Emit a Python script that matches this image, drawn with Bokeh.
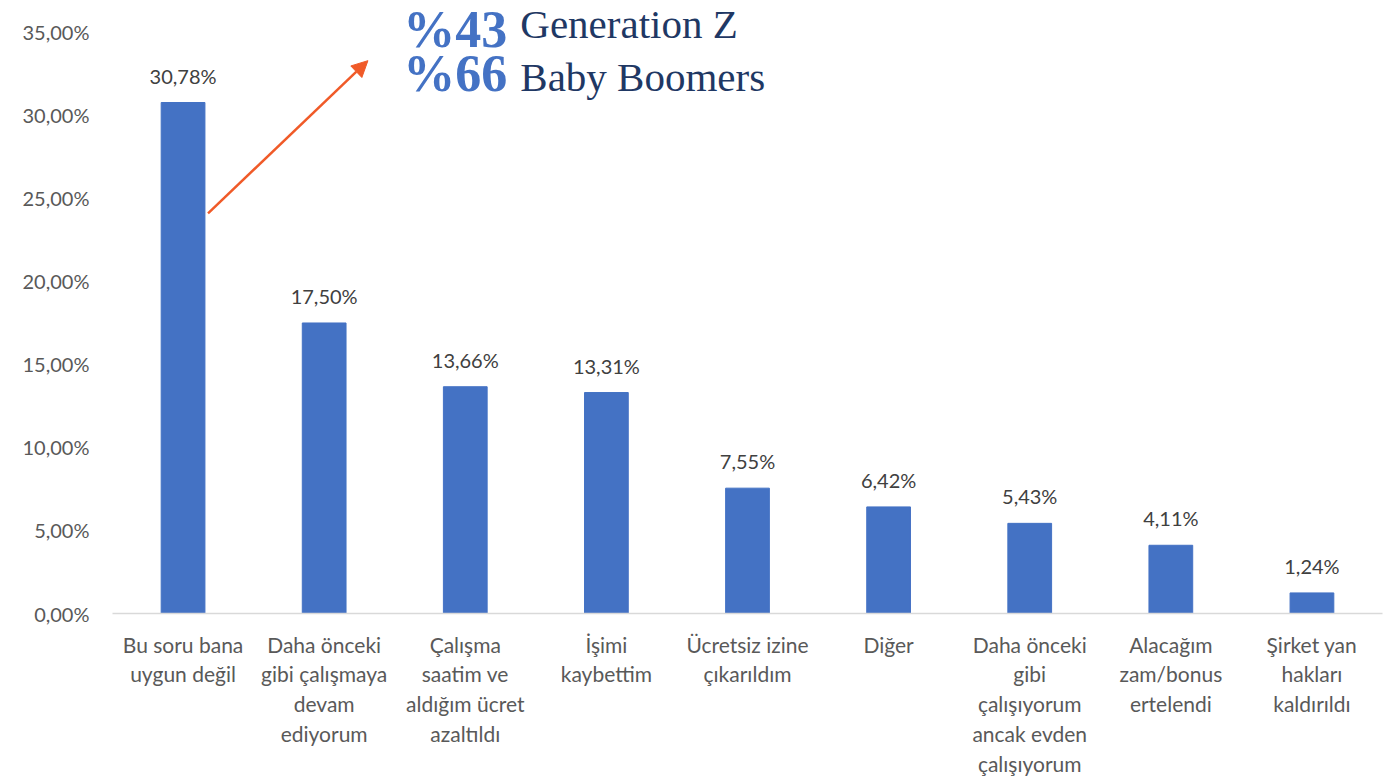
from bokeh.plotting import figure
from bokeh.models import (FactorRange, Range1d, CustomJSTickFormatter, FixedTicker,
                          LabelSet, ColumnDataSource, Label, Arrow, NormalHead)
from bokeh.core.properties import value
from bokeh.embed import file_html
from bokeh.resources import INLINE

categories = [
    "Bu soru bana\nuygun değil",
    "Daha önceki\ngibi çalışmaya\ndevam\nediyorum",
    "Çalışma\nsaatim ve\naldığım ücret\nazaltıldı",
    "İşimi\nkaybettim",
    "Ücretsiz izine\nçıkarıldım",
    "Diğer",
    "Daha önceki\ngibi\nçalışıyorum\nancak evden\nçalışıyorum",
    "Alacağım\nzam/bonus\nertelendi",
    "Şirket yan\nhakları\nkaldırıldı",
]
values = [30.78, 17.50, 13.66, 13.31, 7.55, 6.42, 5.43, 4.11, 1.24]
value_labels = ["30,78%", "17,50%", "13,66%", "13,31%", "7,55%", "6,42%", "5,43%", "4,11%", "1,24%"]
y_ticks = [0, 5, 10, 15, 20, 25, 30, 35]

FONT = "Lato"
src = ColumnDataSource(dict(x=categories, top=values, lab=value_labels))

px_per_unit = 582 / 35.0
y_top = 35 + 30 / px_per_unit

p = figure(width=1391, height=778, x_range=FactorRange(*categories, range_padding=0),
           y_range=Range1d(0, y_top), output_backend="svg", toolbar_location=None,
           min_border_left=112, min_border_right=9, min_border_top=2, min_border_bottom=164)
p.outline_line_color = None
p.xgrid.grid_line_color = None
p.ygrid.grid_line_color = None
p.background_fill_color = "white"

p.vbar(x="x", top="top", width=0.31, source=src, color="#4472C4")

p.add_layout(LabelSet(x="x", y="top", text="lab", source=src, text_align="center",
                      text_baseline="bottom", y_offset=15, text_font=value(FONT),
                      text_font_size="20px", text_color="#404040"))

# y axis
p.yaxis.ticker = FixedTicker(ticks=y_ticks)
p.yaxis.formatter = CustomJSTickFormatter(code="return tick.toFixed(2).replace('.', ',') + '%';")
p.yaxis.axis_line_color = None
p.yaxis.major_tick_line_color = None
p.yaxis.minor_tick_line_color = None
p.yaxis.major_label_text_font = FONT
p.yaxis.major_label_text_font_size = "20px"
p.yaxis.major_label_text_color = "#595959"
p.yaxis.major_label_standoff = 17

# x axis
p.xaxis.axis_line_color = "#D9D9D9"
p.xaxis.axis_line_width = 1.5
p.xaxis.major_tick_line_color = None
p.xaxis.minor_tick_line_color = None
p.xaxis.major_label_text_font = FONT
p.xaxis.major_label_text_font_size = "21px"
p.xaxis.major_label_text_color = "#595959"
p.xaxis.major_label_standoff = 12
p.xaxis.major_label_text_line_height = 1.19

# annotation
p.add_layout(Arrow(end=NormalHead(size=16, fill_color="#F05A28", line_color="#F05A28"),
                   x_start=0.677, y_start=24.1, x_end=1.81, y_end=33.3,
                   line_color="#F05A28", line_width=2.5))
p.add_layout(Label(x=2.06, y=35.18, text="%43", text_font="Liberation Serif",
                   text_font_style="bold", text_font_size="52px", text_color="#4472C4",
                   text_baseline="alphabetic"))
p.add_layout(Label(x=2.89, y=35.48, text="Generation Z", text_font="Liberation Serif",
                   text_font_size="41px", text_color="#1F3864", text_baseline="alphabetic"))
p.add_layout(Label(x=2.06, y=32.5, text="%66", text_font="Liberation Serif",
                   text_font_style="bold", text_font_size="52px", text_color="#4472C4",
                   text_baseline="alphabetic"))
p.add_layout(Label(x=2.89, y=32.29, text="Baby Boomers", text_font="Liberation Serif",
                   text_font_size="41px", text_color="#1F3864", text_baseline="alphabetic"))

open("out.html", "w").write(file_html(p, INLINE))
